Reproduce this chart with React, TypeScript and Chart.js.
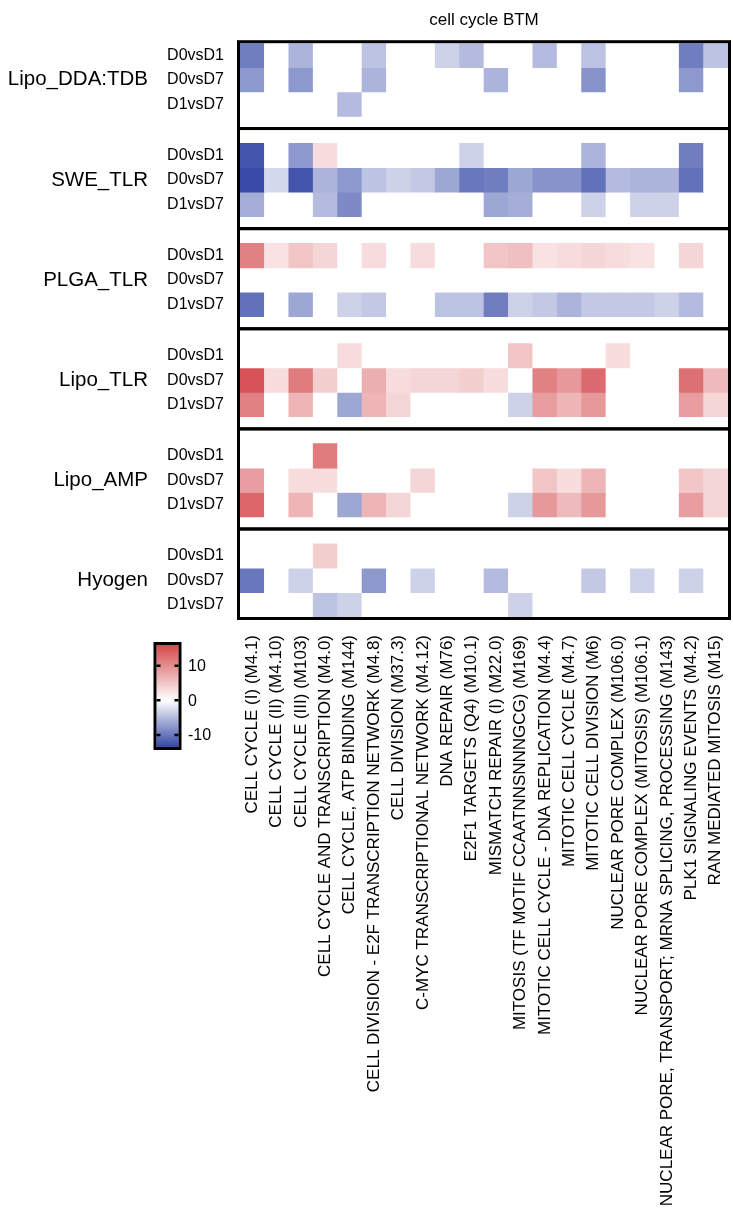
import React, { useEffect, useRef } from 'react';
import { Chart, registerables } from 'chart.js';

Chart.register(...registerables);

const FONT = '"Liberation Sans", Arial, Helvetica, sans-serif';

const title = 'cell cycle BTM';

const modules = [
  'CELL CYCLE (I) (M4.1)',
  'CELL CYCLE (II) (M4.10)',
  'CELL CYCLE (III) (M103)',
  'CELL CYCLE AND TRANSCRIPTION (M4.0)',
  'CELL CYCLE, ATP BINDING (M144)',
  'CELL DIVISION - E2F TRANSCRIPTION NETWORK (M4.8)',
  'CELL DIVISION (M37.3)',
  'C-MYC TRANSCRIPTIONAL NETWORK (M4.12)',
  'DNA REPAIR (M76)',
  'E2F1 TARGETS (Q4) (M10.1)',
  'MISMATCH REPAIR (I) (M22.0)',
  'MITOSIS (TF MOTIF CCAATNNSNNNGCG) (M169)',
  'MITOTIC CELL CYCLE - DNA REPLICATION (M4.4)',
  'MITOTIC CELL CYCLE (M4.7)',
  'MITOTIC CELL DIVISION (M6)',
  'NUCLEAR PORE COMPLEX (M106.0)',
  'NUCLEAR PORE COMPLEX (MITOSIS) (M106.1)',
  'NUCLEAR PORE, TRANSPORT; MRNA SPLICING, PROCESSING (M143)',
  'PLK1 SIGNALING EVENTS (M4.2)',
  'RAN MEDIATED MITOSIS (M15)',
];

const groups = ['Lipo_DDA:TDB', 'SWE_TLR', 'PLGA_TLR', 'Lipo_TLR', 'Lipo_AMP', 'Hyogen'];
const comparisons = ['D0vsD1', 'D0vsD7', 'D1vsD7'];

// rows: D0vsD1, D0vsD7, D1vsD7 ; columns follow `modules`
const lipoDdaTdb = [
  [-9.5, 0, -5.5, 0, 0, -4.4, 0, 0, -3.3, -5, 0, 0, -5, 0, -4.4, 0, 0, 0, -9.5, -4.4],
  [-7.6, 0, -7.6, 0, 0, -5.5, 0, 0, 0, 0, -5.5, 0, 0, 0, -8, 0, 0, 0, -7.6, 0],
  [0, 0, 0, 0, -5, 0, 0, 0, 0, 0, 0, 0, 0, 0, 0, 0, 0, 0, 0, 0],
];
const sweTlr = [
  [-12.6, 0, -7.6, 3, 0, 0, 0, 0, 0, -3.3, 0, 0, 0, 0, -5.5, 0, 0, 0, -9.5, 0],
  [-13.3, -2.8, -12.6, -5.5, -7.6, -4.4, -3.3, -4, -6.5, -10, -9.5, -6.5, -8, -8, -10.5, -5, -5.5, -5.5, -10.5, 0],
  [-6, 0, 0, -5, -8.6, 0, 0, 0, 0, 0, -6.5, -6, 0, 0, -3.3, 0, -3.3, -3.3, 0, 0],
];
const plgaTlr = [
  [11, 2.5, 5, 3.6, 0, 3, 0, 3, 0, 0, 5, 5.5, 2.5, 3, 3.6, 3, 2.5, 0, 3.6, 0],
  [0, 0, 0, 0, 0, 0, 0, 0, 0, 0, 0, 0, 0, 0, 0, 0, 0, 0, 0, 0],
  [-10.5, 0, -6.5, 0, -3.3, -4, 0, 0, -4.4, -4.4, -9.5, -3.3, -4, -5.5, -4, -4, -4, -3.3, -5, 0],
];
const lipoTlr = [
  [0, 0, 0, 0, 3, 0, 0, 0, 0, 0, 0, 5, 0, 0, 0, 3, 0, 0, 0, 0],
  [15, 3, 11.5, 4.2, 0, 7, 3, 3.6, 3.6, 4.2, 3, 0, 11, 9, 13, 0, 0, 0, 12.5, 6],
  [11, 0, 6.5, 0, -6.5, 6.5, 3.6, 0, 0, 0, 0, -3.3, 8.5, 6.5, 9, 0, 0, 0, 8.5, 3.6],
];
const lipoAmp = [
  [0, 0, 0, 11.5, 0, 0, 0, 0, 0, 0, 0, 0, 0, 0, 0, 0, 0, 0, 0, 0],
  [8.5, 0, 3, 3, 0, 0, 0, 3.6, 0, 0, 0, 0, 5, 3, 6.5, 0, 0, 0, 5, 3.6],
  [13.5, 0, 6.5, 0, -6.5, 6.5, 3.6, 0, 0, 0, 0, -3.3, 9, 6, 9, 0, 0, 0, 8.5, 3.6],
];
const hyogen = [
  [0, 0, 0, 4.2, 0, 0, 0, 0, 0, 0, 0, 0, 0, 0, 0, 0, 0, 0, 0, 0],
  [-10, 0, -3.3, 0, 0, -7.6, 0, -3.3, 0, 0, -5, 0, 0, 0, -4, 0, -3.3, 0, -3.3, 0],
  [0, 0, 0, -4.4, -3.3, 0, 0, 0, 0, 0, 0, -3.3, 0, 0, 0, 0, 0, 0, 0, 0],
];

const groupValues = [lipoDdaTdb, sweTlr, plgaTlr, lipoTlr, lipoAmp, hyogen];

const legendTicks = [10, 0, -10];
const COLOR_MIN = -13.5;
const COLOR_MAX = 16;

const RED = [212, 72, 76];
const BLUE = [52, 72, 166];

const ROWS = 3;
const GAP = 1.1;
const groupStart = (g: number) => g * (ROWS + GAP);
const TOTAL = groups.length * ROWS + (groups.length - 1) * GAP;

function colorFor(v: number): string {
  let t: number;
  let end: number[];
  if (v >= 0) {
    t = Math.min(1, v / COLOR_MAX);
    end = RED;
  } else {
    t = Math.min(1, v / COLOR_MIN);
    end = BLUE;
  }
  const c = end.map((e) => Math.round(255 + (e - 255) * t));
  return `rgb(${c[0]},${c[1]},${c[2]})`;
}

const rowCenters: number[] = [];
const rowLabels: string[] = [];
groups.forEach((_, g) => {
  comparisons.forEach((c, r) => {
    rowCenters.push(groupStart(g) + r + 0.5);
    rowLabels.push(c);
  });
});
const groupCenters = groups.map((_, g) => groupStart(g) + ROWS / 2);

const panelPlugin = {
  id: 'panelsAndLegend',
  afterDatasetsDraw(chart: any) {
    const { ctx, chartArea, scales } = chart;
    const y = scales.y;
    ctx.save();
    ctx.lineWidth = 3;
    ctx.strokeStyle = '#000';
    groups.forEach((_, g) => {
      const s = groupStart(g);
      const top = g === 0 ? y.getPixelForValue(0) - 1.5 : y.getPixelForValue(s - GAP * 0.55);
      const bottom =
        g === groups.length - 1 ? y.getPixelForValue(TOTAL) + 1.5 : y.getPixelForValue(s + ROWS + GAP * 0.45);
      ctx.strokeRect(chartArea.left - 1.5, top, chartArea.right - chartArea.left + 3, bottom - top);
    });

    // colour legend
    const L = 156.5, R = 178.5, T = 645, B = 747;
    const pix = (v: number) => T + ((COLOR_MAX - v) / (COLOR_MAX - COLOR_MIN)) * (B - T);
    const grad = ctx.createLinearGradient(0, T, 0, B);
    grad.addColorStop(0, colorFor(COLOR_MAX));
    grad.addColorStop((COLOR_MAX - 0) / (COLOR_MAX - COLOR_MIN), '#ffffff');
    grad.addColorStop(1, colorFor(COLOR_MIN));
    ctx.fillStyle = grad;
    ctx.fillRect(L, T, R - L, B - T);
    ctx.lineWidth = 3;
    ctx.strokeRect(L - 1.5, T - 1.5, R - L + 3, B - T + 3);
    ctx.lineWidth = 2.5;
    ctx.fillStyle = '#000';
    ctx.font = `16px ${FONT}`;
    ctx.textAlign = 'left';
    ctx.textBaseline = 'middle';
    legendTicks.forEach((v) => {
      const py = pix(v);
      ctx.beginPath();
      ctx.moveTo(L, py);
      ctx.lineTo(L + 4, py);
      ctx.moveTo(R - 4, py);
      ctx.lineTo(R, py);
      ctx.stroke();
      ctx.fillText(String(v), 188, py + 1);
    });
    ctx.restore();
  },
};

export default function App() {
  const ref = useRef<HTMLCanvasElement | null>(null);
  useEffect(() => {
    if (!ref.current) return;
    const datasets: any[] = [];
    groupValues.forEach((rows, g) => {
      rows.forEach((vals, r) => {
        const y0 = groupStart(g) + r;
        datasets.push({
          label: `${groups[g]} ${comparisons[r]}`,
          data: vals.map(() => [y0, y0 + 1]),
          backgroundColor: vals.map(colorFor),
          borderWidth: 0,
          grouped: false,
          barPercentage: 1,
          categoryPercentage: 1,
        });
      });
    });

    const chart = new Chart(ref.current, {
      type: 'bar',
      data: { labels: modules, datasets },
      plugins: [panelPlugin],
      options: {
        responsive: false,
        animation: false,
        layout: { padding: { left: 0, right: 5, top: 0, bottom: 0 } },
        plugins: {
          legend: { display: false },
          tooltip: { enabled: false },
          title: {
            display: true,
            text: title,
            color: '#000',
            fullSize: false,
            font: { size: 17, weight: 'normal', family: FONT },
            padding: { top: 10, bottom: 12.8 },
          },
        },
        scales: {
          x: {
            type: 'category',
            grid: { display: false, drawTicks: false },
            border: { display: false },
            ticks: {
              autoSkip: false,
              minRotation: 90,
              maxRotation: 90,
              padding: 18,
              color: '#000',
              font: { size: 17, family: FONT },
            },
            afterFit: (s: any) => {
              s.height = 601;
              s.paddingLeft = 0;
              s.paddingRight = 0;
            },
          },
          y: {
            type: 'linear',
            position: 'left',
            reverse: true,
            min: 0,
            max: TOTAL,
            weight: 0,
            grid: { display: false, drawTicks: false },
            border: { display: false },
            afterBuildTicks: (s: any) => {
              s.ticks = rowCenters.map((v) => ({ value: v }));
            },
            ticks: {
              autoSkip: false,
              padding: 16,
              color: '#000',
              font: { size: 16, family: FONT },
              callback: (_v: any, i: number) => rowLabels[i],
            },
            afterFit: (s: any) => {
              s.width = 80;
            },
          },
          yGroup: {
            type: 'linear',
            position: 'left',
            reverse: true,
            min: 0,
            max: TOTAL,
            weight: 1,
            grid: { display: false, drawTicks: false },
            border: { display: false },
            afterBuildTicks: (s: any) => {
              s.ticks = groupCenters.map((v) => ({ value: v }));
            },
            ticks: {
              autoSkip: false,
              padding: 12,
              color: '#000',
              font: { size: 20.5, family: FONT },
              callback: (_v: any, i: number) => groups[i],
            },
            afterFit: (s: any) => {
              s.width = 160;
            },
          },
        },
      },
    } as any);
    return () => chart.destroy();
  }, []);

  return (
    <div style={{ position: 'absolute', left: 0, top: 0, width: 733, height: 1218, background: '#fff' }}>
      <canvas ref={ref} width={733} height={1218} />
    </div>
  );
}
